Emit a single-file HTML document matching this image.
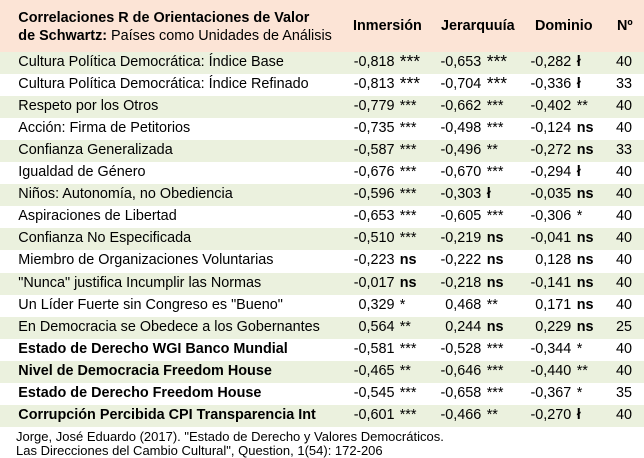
<!DOCTYPE html>
<html><head><meta charset="utf-8">
<style>
html,body{margin:0;padding:0;background:#fff;}
body{width:644px;height:457px;position:relative;overflow:hidden;font-family:"Liberation Sans",Arial,sans-serif;color:#000;}
.hd{position:absolute;left:0;top:0;width:644px;height:51.8px;background:#fce4d6;}
.r{position:absolute;left:0;width:644px;height:22.07px;}
.g{background:#ebf1de;}
.r div,.hd div{position:absolute;top:2px;font-size:14.4px;line-height:16px;white-space:nowrap;}
.l{left:18.3px;}
.n1{left:330px;width:64.5px;text-align:right;}
.m1{left:399.7px;}
.n2{left:420px;width:61.3px;text-align:right;}
.m2{left:486.7px;}
.n3{left:510px;width:61.3px;text-align:right;}
.m3{left:576.7px;}
.c{left:616px;}
b{font-weight:bold;}
.bg{font-size:17.5px !important;top:0.9px !important;}
.ft{position:absolute;left:16px;top:430px;font-size:13px;line-height:13.5px;white-space:nowrap;}
</style></head><body>
<div class="hd">
<div style="left:18.3px;top:9.7px;font-weight:bold;">Correlaciones R de Orientaciones de Valor</div>
<div style="left:18.3px;top:27.7px;"><b>de Schwartz:</b> Países como Unidades de Análisis</div>
<div style="left:353px;top:18px;font-weight:bold;">Inmersión</div>
<div style="left:441px;top:18px;font-weight:bold;">Jerarquuía</div>
<div style="left:535px;top:18px;font-weight:bold;">Dominio</div>
<div style="left:617px;top:18px;font-weight:bold;">Nº</div>
</div>

<div class="r g" style="top:51.8px"><div class="l">Cultura Política Democrática: Índice Base</div><div class="n1">-0,818</div><div class="m1 bg">***</div><div class="n2">-0,653</div><div class="m2 bg">***</div><div class="n3">-0,282</div><div class="m3"><b>ł</b></div><div class="c">40</div></div>
<div class="r" style="top:73.87px"><div class="l">Cultura Política Democrática: Índice Refinado</div><div class="n1">-0,813</div><div class="m1 bg">***</div><div class="n2">-0,704</div><div class="m2 bg">***</div><div class="n3">-0,336</div><div class="m3"><b>ł</b></div><div class="c">33</div></div>
<div class="r g" style="top:95.94px"><div class="l">Respeto por los Otros</div><div class="n1">-0,779</div><div class="m1">***</div><div class="n2">-0,662</div><div class="m2">***</div><div class="n3">-0,402</div><div class="m3">**</div><div class="c">40</div></div>
<div class="r" style="top:118.01px"><div class="l">Acción: Firma de Petitorios</div><div class="n1">-0,735</div><div class="m1">***</div><div class="n2">-0,498</div><div class="m2">***</div><div class="n3">-0,124</div><div class="m3"><b>ns</b></div><div class="c">40</div></div>
<div class="r g" style="top:140.08px"><div class="l">Confianza Generalizada</div><div class="n1">-0,587</div><div class="m1">***</div><div class="n2">-0,496</div><div class="m2">**</div><div class="n3">-0,272</div><div class="m3"><b>ns</b></div><div class="c">33</div></div>
<div class="r" style="top:162.15px"><div class="l">Igualdad de Género</div><div class="n1">-0,676</div><div class="m1">***</div><div class="n2">-0,670</div><div class="m2">***</div><div class="n3">-0,294</div><div class="m3"><b>ł</b></div><div class="c">40</div></div>
<div class="r g" style="top:184.22px"><div class="l">Niños: Autonomía, no Obediencia</div><div class="n1">-0,596</div><div class="m1">***</div><div class="n2">-0,303</div><div class="m2"><b>ł</b></div><div class="n3">-0,035</div><div class="m3"><b>ns</b></div><div class="c">40</div></div>
<div class="r" style="top:206.29px"><div class="l">Aspiraciones de Libertad</div><div class="n1">-0,653</div><div class="m1">***</div><div class="n2">-0,605</div><div class="m2">***</div><div class="n3">-0,306</div><div class="m3">*</div><div class="c">40</div></div>
<div class="r g" style="top:228.36px"><div class="l">Confianza No Especificada</div><div class="n1">-0,510</div><div class="m1">***</div><div class="n2">-0,219</div><div class="m2"><b>ns</b></div><div class="n3">-0,041</div><div class="m3"><b>ns</b></div><div class="c">40</div></div>
<div class="r" style="top:250.43px"><div class="l">Miembro de Organizaciones Voluntarias</div><div class="n1">-0,223</div><div class="m1"><b>ns</b></div><div class="n2">-0,222</div><div class="m2"><b>ns</b></div><div class="n3">0,128</div><div class="m3"><b>ns</b></div><div class="c">40</div></div>
<div class="r g" style="top:272.5px"><div class="l">"Nunca" justifica Incumplir las Normas</div><div class="n1">-0,017</div><div class="m1"><b>ns</b></div><div class="n2">-0,218</div><div class="m2"><b>ns</b></div><div class="n3">-0,141</div><div class="m3"><b>ns</b></div><div class="c">40</div></div>
<div class="r" style="top:294.57px"><div class="l">Un Líder Fuerte sin Congreso es "Bueno"</div><div class="n1">0,329</div><div class="m1">*</div><div class="n2">0,468</div><div class="m2">**</div><div class="n3">0,171</div><div class="m3"><b>ns</b></div><div class="c">40</div></div>
<div class="r g" style="top:316.64px"><div class="l">En Democracia se Obedece a los Gobernantes</div><div class="n1">0,564</div><div class="m1">**</div><div class="n2">0,244</div><div class="m2"><b>ns</b></div><div class="n3">0,229</div><div class="m3"><b>ns</b></div><div class="c">25</div></div>
<div class="r" style="top:338.71px"><div class="l"><b>Estado de Derecho WGI Banco Mundial</b></div><div class="n1">-0,581</div><div class="m1">***</div><div class="n2">-0,528</div><div class="m2">***</div><div class="n3">-0,344</div><div class="m3">*</div><div class="c">40</div></div>
<div class="r g" style="top:360.78px"><div class="l"><b>Nivel de Democracia Freedom House</b></div><div class="n1">-0,465</div><div class="m1">**</div><div class="n2">-0,646</div><div class="m2">***</div><div class="n3">-0,440</div><div class="m3">**</div><div class="c">40</div></div>
<div class="r" style="top:382.85px"><div class="l"><b>Estado de Derecho Freedom House</b></div><div class="n1">-0,545</div><div class="m1">***</div><div class="n2">-0,658</div><div class="m2">***</div><div class="n3">-0,367</div><div class="m3">*</div><div class="c">35</div></div>
<div class="r g" style="top:404.92px"><div class="l"><b>Corrupción Percibida CPI Transparencia Int</b></div><div class="n1">-0,601</div><div class="m1">***</div><div class="n2">-0,466</div><div class="m2">**</div><div class="n3">-0,270</div><div class="m3"><b>ł</b></div><div class="c">40</div></div>

<div class="ft">Jorge, José Eduardo (2017). "Estado de Derecho y Valores Democráticos.<br>Las Direcciones del Cambio Cultural", Question, 1(54): 172-206</div>
</body></html>
